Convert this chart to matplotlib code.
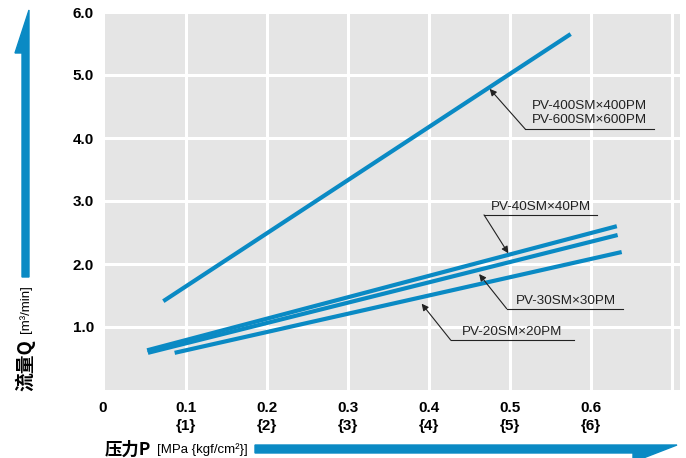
import matplotlib
matplotlib.use("Agg")
import matplotlib.pyplot as plt
from matplotlib.patches import Polygon
from matplotlib import font_manager

# data
pressure_start = [0.072, 0.052, 0.053, 0.086]
pressure_end = [0.575, 0.632, 0.633, 0.638]
flow_start = [1.41, 0.63, 0.59, 0.59]
flow_end = [5.65, 2.60, 2.46, 2.19]
models = ["PV-400SM×400PM\nPV-600SM×600PM", "PV-40SM×40PM",
          "PV-30SM×30PM", "PV-20SM×20PM"]

x_ticks = [0.1, 0.2, 0.3, 0.4, 0.5, 0.6, 0.7]
x_labels = ["0.1\n{1}", "0.2\n{2}", "0.3\n{3}", "0.4\n{4}", "0.5\n{5}", "0.6\n{6}", ""]
y_ticks = [1, 2, 3, 4, 5, 6]
y_labels = ["1.0", "2.0", "3.0", "4.0", "5.0", "6.0"]

# label placement: arrow tip, leader start, underline end, text anchor
tips = [(0.475, 4.78), (0.498, 2.17), (0.462, 1.84), (0.391, 1.37)]
tails = [(0.519, 4.14), (0.468, 2.78), (0.496, 1.29), (0.427, 0.79)]
line_ends = [0.678, 0.607, 0.640, 0.579]
text_pos = [(0.527, 4.19), (0.477, 2.81), (0.507, 1.32), (0.441, 0.83)]

BLUE = "#0a8ac4"
names = {f.name for f in font_manager.fontManager.ttflist}
narrow = "Liberation Sans Narrow" if "Liberation Sans Narrow" in names else "Liberation Sans"
cjk = ["Noto Sans CJK SC", "DejaVu Sans"]

W, H = 686, 458
fig = plt.figure(figsize=(W / 100, H / 100), dpi=100)
ax = fig.add_axes([105 / W, (H - 390) / H, 575 / W, 378 / H])
ax.set_facecolor("#e5e5e5")
ax.set_xlim(0, 0.71)
ax.set_ylim(0, 6)
for s in ax.spines.values():
    s.set_visible(False)
ax.grid(True, color="white", lw=2.2)
ax.set_axisbelow(True)
ax.tick_params(length=0, pad=8)

ax.set_xticks(x_ticks)
ax.set_xticklabels(x_labels, fontfamily=narrow, fontweight="bold", fontsize=11,
                   va="top", linespacing=1.35)
ax.set_yticks(y_ticks)
ax.set_yticklabels(y_labels, fontfamily=narrow, fontweight="bold", fontsize=11)
ax.text(-0.003, -0.17, "0", ha="center", va="top", fontfamily=narrow,
        fontweight="bold", fontsize=11)

for x0, x1, y0, y1 in zip(pressure_start, pressure_end, flow_start, flow_end):
    ax.plot([x0, x1], [y0, y1], color=BLUE, lw=3.0, solid_capstyle="butt")

for label, tip, tail, xe, tp in zip(models, tips, tails, line_ends, text_pos):
    ax.annotate("", xy=tip, xytext=tail,
                arrowprops=dict(arrowstyle="-|>", color="#222222", lw=0.8,
                                mutation_scale=10, shrinkA=0, shrinkB=0))
    ax.plot([tail[0], xe], [tail[1], tail[1]], color="#222222", lw=0.8)
    ax.text(tp[0], tp[1], label, ha="left", va="bottom", fontfamily=narrow,
            fontsize=9.7, color="#222222", linespacing=1.2)

# axis titles with blue arrows
def fpt(x, y):
    return (x / W, 1 - y / H)

fig.patches.append(Polygon([fpt(22, 277), fpt(29, 277), fpt(29, 10), fpt(15, 53), fpt(22, 53)],
                           closed=True, transform=fig.transFigure, color=BLUE))
fig.patches.append(Polygon([fpt(255, 445), fpt(677, 445), fpt(633, 462), fpt(633, 453), fpt(255, 453)],
                           closed=True, transform=fig.transFigure, color=BLUE))

fig.text(*fpt(25, 391), "流量Q", rotation=90, ha="center", va="bottom",
         fontfamily=cjk, fontweight="bold", fontsize=13.5)
fig.text(*fpt(26, 333), "[m³/min]", rotation=90, ha="center", va="bottom",
         fontfamily=narrow, fontsize=9.5)
fig.text(*fpt(105, 450), "压力P", ha="left", va="center",
         fontfamily=cjk, fontweight="bold", fontsize=12.5)
fig.text(*fpt(157, 450), "[MPa {kgf/cm²}]", ha="left", va="center",
         fontfamily=narrow, fontsize=9.5)

fig.savefig("out.png", dpi=100)
